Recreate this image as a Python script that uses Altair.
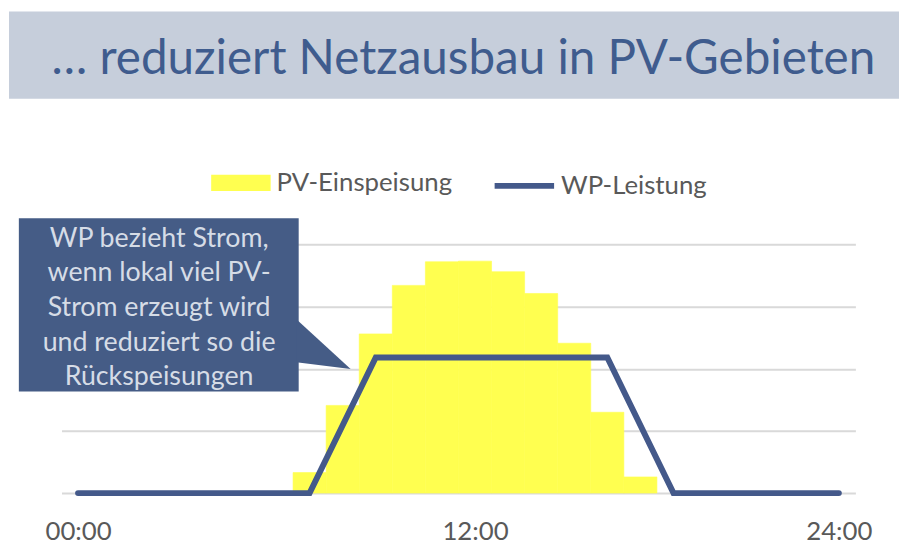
import altair as alt
import pandas as pd

# ---------------- data ----------------
hours = list(range(24))
pv_einspeisung = [0, 0, 0, 0, 0, 0, 0, 0.33, 1.41, 2.56, 3.34, 3.72,
                  3.73, 3.56, 3.21, 2.41, 1.30, 0.26, 0, 0, 0, 0, 0, 0]
wp_leistung = [0, 0, 0, 0, 0, 0, 0, 0, 1.09, 2.18, 2.18, 2.18,
               2.18, 2.18, 2.18, 2.18, 2.18, 1.09, 0, 0, 0, 0, 0, 0]
series_names = ["PV-Einspeisung", "WP-Leistung"]
tick_hours = [0, 12, 23]
tick_labels = ["00:00", "12:00", "24:00"]
title_text = "… reduziert Netzausbau in PV-Gebieten"
callout_lines = ["WP bezieht Strom,", "wenn lokal viel PV-", "Strom erzeugt wird",
                 "und reduziert so die", "Rückspeisungen"]

# ---------------- styles ----------------
FONT = "Lato"
YELLOW = "#FFFF50"
BLUE = "#44598A"
BOX = "#455C86"
GRID = "#D9D9D9"
LABEL = "#595959"
BANNER = "#C6CEDB"
TITLE_COLOR = "#3F5C8E"

df = pd.DataFrame({
    "hour": hours,
    "hour_end": [h + 1 for h in hours],
    "mid": [h + 0.5 for h in hours],
    "pv": pv_einspeisung,
    "wp": wp_leistung,
    "pv_series": series_names[0],
    "wp_series": series_names[1],
})

tick_vals = [h + 0.5 for h in tick_hours]
label_expr = ""
for v, l in zip(tick_vals[:-1], tick_labels[:-1]):
    label_expr += f"datum.value == {v} ? '{l}' : "
label_expr += f"'{tick_labels[-1]}'"

xscale = alt.Scale(domain=[0, 24], nice=False, zero=False)
yscale = alt.Scale(domain=[0, 4], nice=False)
xaxis = alt.Axis(values=tick_vals, labelExpr=label_expr, grid=False, domain=False,
                 ticks=False, tickSize=0, labelPadding=26, labelFont=FONT,
                 labelFontSize=26, labelColor=LABEL)
yaxis = alt.Axis(values=[0, 1, 2, 3, 4], grid=True, gridColor=GRID, gridWidth=2,
                 labels=False, ticks=False, domain=False)

base = alt.Chart(df)

bars = base.mark_rect(stroke=YELLOW, strokeWidth=0.6).encode(
    x=alt.X("hour:Q", scale=xscale, axis=xaxis, title=None),
    x2="hour_end:Q",
    y=alt.Y("pv:Q", scale=yscale, axis=yaxis, title=None),
    y2=alt.datum(0),
    fill=alt.Fill("pv_series:N",
                  scale=alt.Scale(domain=[series_names[0]], range=[YELLOW]),
                  legend=alt.Legend(orient="none", legendX=151, legendY=-92,
                                    title=None, symbolType="M-1,-0.27H1V0.27H-1Z",
                                    symbolSize=3600, symbolStrokeWidth=0,
                                    labelFont=FONT, labelFontSize=26, labelLimit=400,
                                    labelColor=LABEL, labelOffset=6, padding=0)),
).transform_filter("datum.pv > 0")

line = base.mark_line(strokeWidth=6, strokeCap="round").encode(
    x=alt.X("mid:Q", scale=xscale, axis=xaxis, title=None),
    y=alt.Y("wp:Q", scale=yscale, axis=yaxis, title=None),
    stroke=alt.Stroke("wp_series:N",
                      scale=alt.Scale(domain=[series_names[1]], range=[BLUE]),
                      legend=alt.Legend(orient="none", legendX=434, legendY=-92,
                                        title=None, symbolType="stroke",
                                        symbolSize=3600, symbolStrokeWidth=6,
                                        labelFont=FONT, labelFontSize=26, labelLimit=400,
                                        labelColor=LABEL, labelOffset=4, padding=0)),
)

# callout annotation (data units)
box_df = pd.DataFrame({"x": [-1.29], "x2": [7.17], "y": [4.418], "y2": [1.633]})
ptr_df = pd.DataFrame({"x": [7.1, 8.74], "y": [2.794, 1.996], "y2": [2.103, 1.996]})
txt_df = pd.DataFrame({"x": [2.95], "y": [4.09], "t": ["\n".join(callout_lines)]})

box = alt.Chart(box_df).mark_rect(color=BOX).encode(
    x=alt.X("x:Q", scale=xscale, axis=xaxis, title=None), x2="x2:Q",
    y=alt.Y("y:Q", scale=yscale, axis=yaxis, title=None), y2="y2:Q")
ptr = alt.Chart(ptr_df).mark_area(color=BOX).encode(
    x=alt.X("x:Q", scale=xscale, axis=xaxis, title=None),
    y=alt.Y("y:Q", scale=yscale, axis=yaxis, title=None), y2="y2:Q")
txt = alt.Chart(txt_df).mark_text(font=FONT, fontSize=27, color="#D6DCE6",
                                  lineHeight=35, lineBreak="\n", align="center",
                                  baseline="middle").encode(
    x=alt.X("x:Q", scale=xscale, axis=xaxis, title=None),
    y=alt.Y("y:Q", scale=yscale, axis=yaxis, title=None),
    text="t:N")

# banner
one = pd.DataFrame({"t": [title_text]})
banner = alt.Chart(one).mark_rect(color=BANNER).encode(
    x=alt.value(-53), x2=alt.value(845), y=alt.value(-235), y2=alt.value(-147))
title = alt.Chart(one).mark_text(font=FONT, fontSize=48, color=TITLE_COLOR,
                                 align="left", baseline="alphabetic").encode(
    x=alt.value(-10), y=alt.value(-172), text="t:N")

chart = alt.layer(bars, line, box, ptr, txt, banner, title).properties(
    width=801, height=251,
    autosize=alt.AutoSizeParams(type="none"),
    padding={"left": 54, "top": 236, "right": 44, "bottom": 61},
    background="white",
).configure_view(stroke=None)

chart.save("out.html", embed_options={"renderer": "svg", "actions": False})
